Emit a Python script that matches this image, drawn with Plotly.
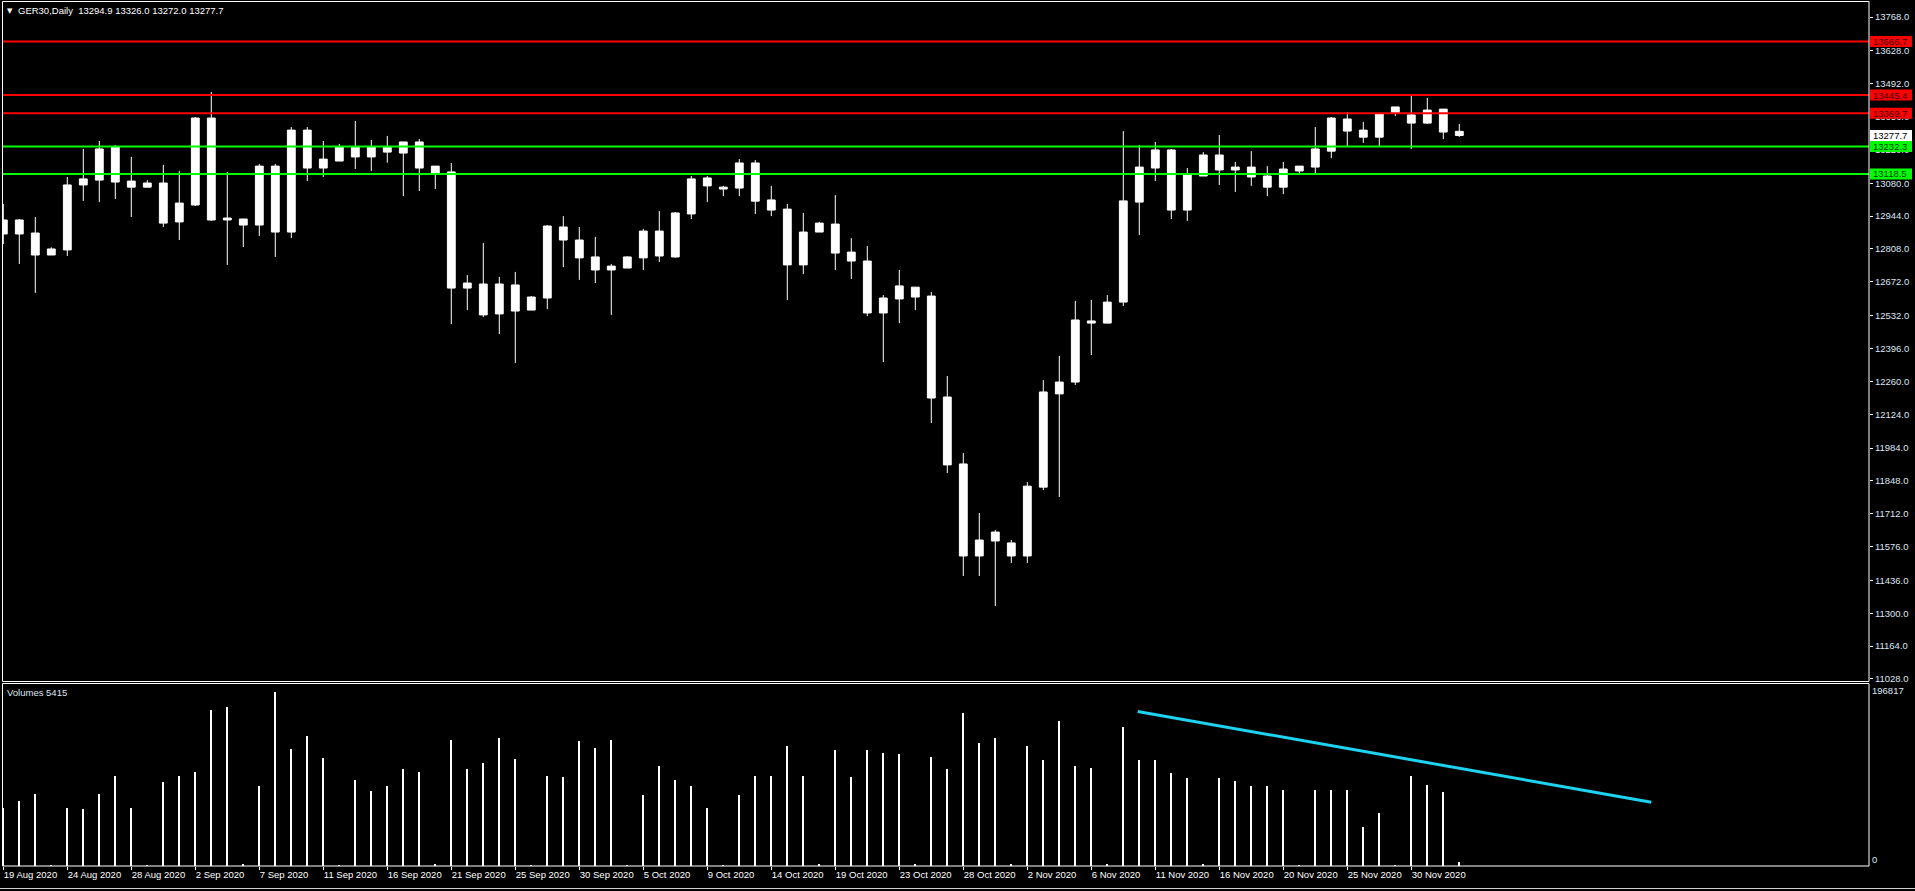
import plotly.graph_objects as go

# ---------------- data ----------------
dates = [
    "2020-08-19", "2020-08-20", "2020-08-21", "2020-08-23", "2020-08-24", "2020-08-25", "2020-08-26", "2020-08-27",
    "2020-08-28", "2020-08-30", "2020-08-31", "2020-09-01", "2020-09-02", "2020-09-03", "2020-09-04", "2020-09-06",
    "2020-09-07", "2020-09-08", "2020-09-09", "2020-09-10", "2020-09-11", "2020-09-13", "2020-09-14", "2020-09-15",
    "2020-09-16", "2020-09-17", "2020-09-18", "2020-09-20", "2020-09-21", "2020-09-22", "2020-09-23", "2020-09-24",
    "2020-09-25", "2020-09-27", "2020-09-28", "2020-09-29", "2020-09-30", "2020-10-01", "2020-10-02", "2020-10-04",
    "2020-10-05", "2020-10-06", "2020-10-07", "2020-10-08", "2020-10-09", "2020-10-11", "2020-10-12", "2020-10-13",
    "2020-10-14", "2020-10-15", "2020-10-16", "2020-10-18", "2020-10-19", "2020-10-20", "2020-10-21", "2020-10-22",
    "2020-10-23", "2020-10-25", "2020-10-26", "2020-10-27", "2020-10-28", "2020-10-29", "2020-10-30", "2020-11-01",
    "2020-11-02", "2020-11-03", "2020-11-04", "2020-11-05", "2020-11-06", "2020-11-08", "2020-11-09", "2020-11-10",
    "2020-11-11", "2020-11-12", "2020-11-13", "2020-11-15", "2020-11-16", "2020-11-17", "2020-11-18", "2020-11-19",
    "2020-11-20", "2020-11-22", "2020-11-23", "2020-11-24", "2020-11-25", "2020-11-26", "2020-11-27", "2020-11-29",
    "2020-11-30", "2020-12-01", "2020-12-02", "2020-12-03",
]
tick_labels = [
    "19 Aug 2020", "24 Aug 2020", "28 Aug 2020", "2 Sep 2020", "7 Sep 2020", "11 Sep 2020", "16 Sep 2020",
    "21 Sep 2020", "25 Sep 2020", "30 Sep 2020", "5 Oct 2020", "9 Oct 2020", "14 Oct 2020", "19 Oct 2020",
    "23 Oct 2020", "28 Oct 2020", "2 Nov 2020", "6 Nov 2020", "11 Nov 2020", "16 Nov 2020", "20 Nov 2020",
    "25 Nov 2020", "30 Nov 2020",
]
opens = [12870, 12928, 12874, 12783, 12804, 13073, 13093, 13230, 13089, 13064, 13081, 12920, 12990, 13350, 12928, 12932,
         12907, 13151, 12878, 13300, 13143, 13172, 13230, 13189, 13229, 13205, 13251, 13151, 13127, 12646, 12663, 12539,
         12659, 12555, 12605, 12899, 12845, 12775, 12721, 12729, 12771, 12882, 12775, 12953, 13102, 13064, 13060, 13164,
         13011, 12973, 12742, 12878, 12911, 12795, 12758, 12543, 12601, 12650, 12613, 12195, 11918, 11537, 11599, 11591,
         11537, 11822, 12208, 12257, 12510, 12501, 12588, 13002, 13143, 13218, 12969, 13110, 13197, 13135, 13147, 13110,
         13064, 13131, 13147, 13213, 13346, 13300, 13271, 13371, 13363, 13329, 13387, 13294.9]
highs = [12994, 12932, 12940, 12815, 13106, 13222, 13255, 13238, 13189, 13093, 13156, 13131, 13354, 13458, 13127, 12932,
         13160, 13160, 13313, 13313, 13255, 13243, 13338, 13259, 13276, 13251, 13263, 13151, 13164, 12700, 12833, 12692,
         12713, 12613, 12907, 12944, 12899, 12858, 12746, 12778, 12891, 12965, 12961, 13110, 13110, 13069, 13180, 13176,
         13069, 12994, 12957, 12920, 13031, 12853, 12820, 12617, 12721, 12650, 12630, 12282, 11963, 11715, 11644, 11603,
         11843, 12265, 12365, 12593, 12597, 12617, 13296, 13238, 13251, 13222, 13143, 13209, 13280, 13168, 13213, 13151,
         13168, 13151, 13313, 13354, 13375, 13334, 13367, 13396, 13441, 13433, 13387, 13326.0]
lows = [12828, 12746, 12626, 12783, 12779, 13007, 13002, 13015, 12940, 13064, 12899, 12845, 12986, 12924, 12742, 12816,
        12862, 12775, 12853, 13089, 13106, 13172, 13139, 13131, 13165, 13027, 13048, 13056, 12497, 12555, 12526, 12456,
        12336, 12555, 12559, 12733, 12680, 12667, 12535, 12729, 12721, 12754, 12771, 12932, 13002, 13027, 13027, 12953,
        12944, 12597, 12704, 12878, 12721, 12684, 12530, 12340, 12501, 12555, 12087, 11880, 11454, 11454, 11330, 11508,
        11508, 11810, 11781, 12245, 12369, 12501, 12572, 12866, 13089, 12932, 12924, 13110, 13073, 13044, 13069, 13027,
        13035, 13122, 13122, 13184, 13234, 13247, 13234, 13358, 13222, 13325, 13263, 13272.0]
closes = [12928, 12870, 12783, 12808, 13073, 13098, 13222, 13085, 13064, 13081, 12915, 12998, 13350, 12928, 12936, 12907,
          13151, 12878, 13300, 13143, 13180, 13230, 13189, 13230, 13209, 13251, 13143, 13122, 12646, 12667, 12535, 12663,
          12551, 12609, 12903, 12845, 12771, 12721, 12737, 12775, 12882, 12779, 12957, 13098, 13069, 13056, 13164, 13006,
          12969, 12742, 12878, 12915, 12791, 12758, 12543, 12605, 12655, 12609, 12191, 11914, 11537, 11603, 11636, 11537,
          11826, 12216, 12257, 12514, 12501, 12588, 13007, 13147, 13218, 12969, 13118, 13197, 13135, 13147, 13106, 13064,
          13139, 13151, 13222, 13350, 13296, 13271, 13367, 13396, 13329, 13383, 13292, 13277.7]
volumes = [66300, 73450, 82000, 2000, 66300, 64900, 82000, 102000, 66300, 2000, 94900, 102000, 106400, 176400, 179400, 2500,
           90700, 196817, 132100, 146400, 122100, 2000, 97800, 84900, 90700, 109200, 106400, 2500, 142100, 109200, 116500, 145000,
           120700, 2000, 102000, 100600, 140700, 133600, 142100, 2000, 80600, 113500, 97800, 90700, 66300, 2000, 80600, 102000,
           102000, 135000, 102000, 2500, 130700, 100600, 130700, 127800, 126400, 2500, 123600, 110000, 172200, 139300, 145000, 3000,
           135000, 120000, 163700, 113500, 110700, 3000, 156400, 119300, 119300, 105000, 99200, 2500, 99200, 96400, 90700, 90700,
           86300, 2000, 86300, 86300, 86300, 44900, 60600, 2000, 102000, 92100, 83500, 5415]
price_ticks = [13768, 13628, 13492, 13356, 13220, 13080, 12944, 12808, 12672, 12532, 12396, 12260, 12124, 11984,
               11848, 11712, 11576, 11436, 11300, 11164, 11028]
red_levels = [13666.7, 13445.4, 13369.7]
green_levels = [13232.3, 13118.5]
volume_max = 196817
trend_x = [70.9, 103.0]
trend_v = [173800, 71800]
title_text = "GER30,Daily  13294.9 13326.0 13272.0 13277.7"
volume_title = "Volumes 5415"

# ---------------- geometry ----------------
W, H = 1915, 891
ML, MR, MT, MB = 2, 46, 2, 25
PW, PH = W - ML - MR, H - MT - MB
BAR_PX = 16.0


def pyp(p):  # pixel y -> paper
    return (H - MB - p) / PH


def pxp(p):  # pixel x -> paper
    return (p - ML) / PW


x0 = (ML - 3.3) / BAR_PX
x_range = [x0, x0 + PW / BAR_PX]
PPP = 4.14  # price points per pixel
ref_price, ref_px = 13445.4, 95.0
y_range = [ref_price - (681.5 - ref_px) * PPP, ref_price + (ref_px - MT) * PPP]
vol_top = volume_max * (866 - 683.5) / (866 - 691)

idx = list(range(len(dates)))
FONT = "Liberation Sans"
FS = 9.5

fig = go.Figure()
fig.add_trace(go.Candlestick(
    x=idx, open=opens, high=highs, low=lows, close=closes,
    increasing=dict(line=dict(color="white", width=1), fillcolor="white"),
    decreasing=dict(line=dict(color="white", width=1), fillcolor="white"),
    whiskerwidth=0, xaxis="x", yaxis="y", showlegend=False, hoverinfo="skip"))
fig.add_trace(go.Bar(
    x=idx, y=volumes, width=0.12, marker=dict(color="white", line=dict(width=0)),
    xaxis="x", yaxis="y2", showlegend=False, hoverinfo="skip"))
fig.add_trace(go.Scatter(
    x=trend_x, y=trend_v, mode="lines", line=dict(color="#1ED3F2", width=3),
    xaxis="x", yaxis="y2", showlegend=False, hoverinfo="skip"))

shapes = []
annotations = []
# horizontal levels
for lv, col in [(v, "#FF0000") for v in red_levels] + [(v, "#00FF00") for v in green_levels]:
    shapes.append(dict(type="line", xref="paper", yref="y", x0=pxp(2.5), x1=1, y0=lv, y1=lv,
                       line=dict(color=col, width=2), layer="above"))
# price label boxes on right axis
for lv, col, tc in ([(v, "#FF0000", "#3A0000") for v in red_levels]
                    + [(v, "#00FF00", "#003A00") for v in green_levels]
                    + [(closes[-1], "#FFFFFF", "#000000")]):
    shapes.append(dict(type="rect", xref="paper", xsizemode="pixel", xanchor=1, x0=1, x1=43,
                       yref="y", ysizemode="pixel", yanchor=lv, y0=-5.5, y1=5.5,
                       fillcolor=col, line=dict(width=0), layer="above"))
    annotations.append(dict(xref="paper", yref="y", x=1, y=lv, xanchor="left", yanchor="middle",
                            xshift=2, text=f"{lv:.1f}", showarrow=False,
                            font=dict(family=FONT, size=FS, color=tc)))
# frames
shapes.append(dict(type="rect", xref="paper", yref="paper", x0=pxp(2.5), x1=pxp(1869), y0=pyp(681.5), y1=pyp(1.5),
                   line=dict(color="white", width=1), layer="above"))
shapes.append(dict(type="rect", xref="paper", yref="paper", x0=pxp(2.5), x1=pxp(1869), y0=pyp(866), y1=pyp(683.5),
                   line=dict(color="white", width=1), layer="above"))
shapes.append(dict(type="line", xref="paper", yref="paper", x0=pxp(0), x1=pxp(W), y0=pyp(888.5), y1=pyp(888.5),
                   line=dict(color="#D0D0D0", width=1), layer="above"))

# texts
annotations.append(dict(xref="paper", yref="paper", x=pxp(5), y=pyp(11), xanchor="left", yanchor="middle",
                        text="▼", showarrow=False, font=dict(family="DejaVu Sans", size=7, color="white")))
annotations.append(dict(xref="paper", yref="paper", x=pxp(16), y=pyp(11), xanchor="left", yanchor="middle",
                        text=title_text, showarrow=False, font=dict(family=FONT, size=FS, color="white")))
annotations.append(dict(xref="paper", yref="paper", x=pxp(5), y=pyp(692.5), xanchor="left", yanchor="middle",
                        text=volume_title, showarrow=False, font=dict(family=FONT, size=FS, color="#DDE6F5")))
annotations.append(dict(xref="paper", yref="paper", x=1, y=pyp(690.5), xanchor="left", yanchor="middle", xshift=1,
                        text=f"{volume_max}", showarrow=False, font=dict(family=FONT, size=FS, color="#DDE6F5")))
annotations.append(dict(xref="paper", yref="paper", x=1, y=pyp(859), xanchor="left", yanchor="middle", xshift=1,
                        text="0", showarrow=False, font=dict(family=FONT, size=FS, color="#DDE6F5")))

fig.update_layout(
    width=W, height=H,
    margin=dict(l=ML, r=MR, t=MT, b=MB, pad=0),
    paper_bgcolor="#000000", plot_bgcolor="#000000",
    showlegend=False, bargap=0,
    xaxis=dict(range=x_range, anchor="y2", showgrid=False, zeroline=False, showline=False,
               rangeslider=dict(visible=False),
               tickmode="array", tickvals=idx[::4], ticktext=tick_labels,
               ticks="outside", ticklen=3, tickcolor="white", ticklabelposition="outside right",
               tickfont=dict(family=FONT, size=FS, color="white")),
    yaxis=dict(domain=[pyp(681.5), 1], range=y_range, side="right", anchor="x", showgrid=False,
               zeroline=False, showline=False, tickmode="array", tickvals=price_ticks,
               ticktext=[f"{v:.1f}" for v in price_ticks], ticks="outside", ticklen=3, tickcolor="white",
               tickfont=dict(family=FONT, size=FS, color="#DDE6F5")),
    yaxis2=dict(domain=[0, pyp(683.5)], range=[0, vol_top], side="right", anchor="x", showgrid=False,
                zeroline=False, showline=False, showticklabels=False, ticks=""),
    shapes=shapes, annotations=annotations,
)

fig.write_html("out.html", config={"displayModeBar": False},
               post_script="document.body.style.margin='0px';document.body.style.overflow='hidden';document.body.style.background='#000';")
